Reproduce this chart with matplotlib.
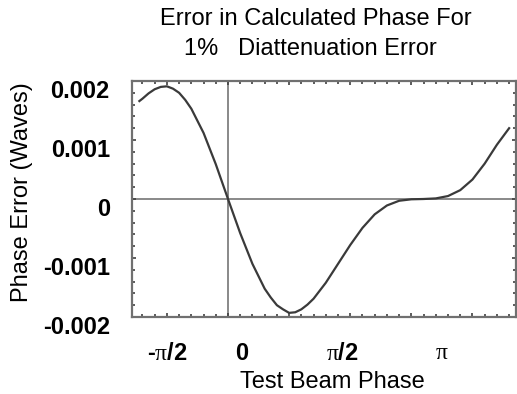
import numpy as np
import matplotlib
matplotlib.use('Agg')
import matplotlib.pyplot as plt
from matplotlib.ticker import MultipleLocator
from matplotlib.transforms import offset_copy

plt.rcParams['font.family'] = ['Liberation Sans', 'DejaVu Sans']
plt.rcParams['mathtext.fontset'] = 'custom'
plt.rcParams['mathtext.rm'] = 'Liberation Serif'
plt.rcParams['mathtext.it'] = 'Liberation Serif'

# test beam phase (radians) and phase error (milli-waves)
beam_phase = [-1.45, -1.4, -1.3, -1.2, -1.1, -1.0, -0.9, -0.8, -0.7, -0.6,
              -0.4, -0.2, 0.0, 0.2, 0.4, 0.6, 0.7, 0.8, 0.9, 1.0,
              1.1, 1.2, 1.3, 1.4, 1.6, 1.8, 2.0, 2.2, 2.4, 2.6,
              2.8, 3.0, 3.2, 3.4, 3.6, 3.8, 4.0, 4.2, 4.4, 4.6]
phase_err = [1.66, 1.70, 1.79, 1.86, 1.90, 1.91, 1.87, 1.80, 1.68, 1.53,
             1.12, 0.59, 0.0, -0.58, -1.10, -1.52, -1.67, -1.80, -1.87, -1.93,
             -1.92, -1.87, -1.79, -1.69, -1.42, -1.10, -0.78, -0.49, -0.26, -0.11,
             -0.03, -0.005, 0.0, 0.01, 0.05, 0.15, 0.33, 0.60, 0.92, 1.20]
phase_err = [v * 1e-3 for v in phase_err]

y_ticks = [0.002, 0.001, 0.0, -0.001, -0.002]
y_labels = ['0.002', '0.001', '0', '-0.001', '-0.002']
x_label_pos = [-np.pi / 2, 0.0, np.pi / 2, np.pi]
x_labels = [r'-$\pi$/2', '0', r'$\pi$/2', r'$\pi$']
x_label_bold = [True, True, True, False]
x_label_shift = [35, 14, 18, 22]  # px, labels were hand placed in the original

fig = plt.figure(figsize=(5.17, 3.94), dpi=100)
ax = fig.add_axes([132 / 517, 77 / 394, 384 / 517, 236 / 394])

grey = '#707070'
ax.axhline(0, color='#808080', lw=1.3, zorder=1)
ax.axvline(0, color='#808080', lw=1.3, zorder=1)
ax.plot(beam_phase, phase_err, color='#3a3a3a', lw=1.6, zorder=3)

ax.set_xlim(-np.pi / 2, 3 * np.pi / 2)
ax.set_ylim(-0.002, 0.002)

for s in ax.spines.values():
    s.set_color(grey)
    s.set_linewidth(1.6)

ax.xaxis.set_major_locator(MultipleLocator(1.0))
ax.xaxis.set_minor_locator(MultipleLocator(0.2))
ax.set_yticks(y_ticks)
ax.yaxis.set_minor_locator(MultipleLocator(0.0002))
ax.set_yticklabels(y_labels)
ax.set_xticklabels([])
ax.tick_params(which='both', direction='in', top=True, right=True, color='#404040')
ax.tick_params(which='major', length=3, width=1.2)
ax.tick_params(which='minor', length=2, width=1.2)
ax.tick_params(axis='y', pad=16, labelsize=17)
for lab in ax.get_yticklabels():
    lab.set_fontweight('bold')
    lab.set_transform(offset_copy(lab.get_transform(), fig=fig, x=0, y=-8, units='dots'))

for xp, txt, bold, dx in zip(x_label_pos, x_labels, x_label_bold, x_label_shift):
    tr = offset_copy(ax.get_xaxis_transform(), fig=fig, x=dx, y=-36, units='dots')
    ax.text(xp, 0, txt, transform=tr, ha='center', va='center', fontsize=17,
            fontweight='bold' if bold else 'normal', clip_on=False)

fig.text(316 / 517, 1 - 19 / 394, 'Error in Calculated Phase For',
         ha='center', va='center', fontsize=17)
fig.text(310 / 517, 1 - 49 / 394, '1%   Diattenuation Error',
         ha='center', va='center', fontsize=17)
fig.text(22 / 517, 1 - 192 / 394, 'Phase Error (Waves)', rotation=90,
         ha='center', va='center', fontsize=17)
fig.text(332 / 517, 1 - 382 / 394, 'Test Beam Phase',
         ha='center', va='center', fontsize=17)

fig.savefig('out.png', dpi=100)
